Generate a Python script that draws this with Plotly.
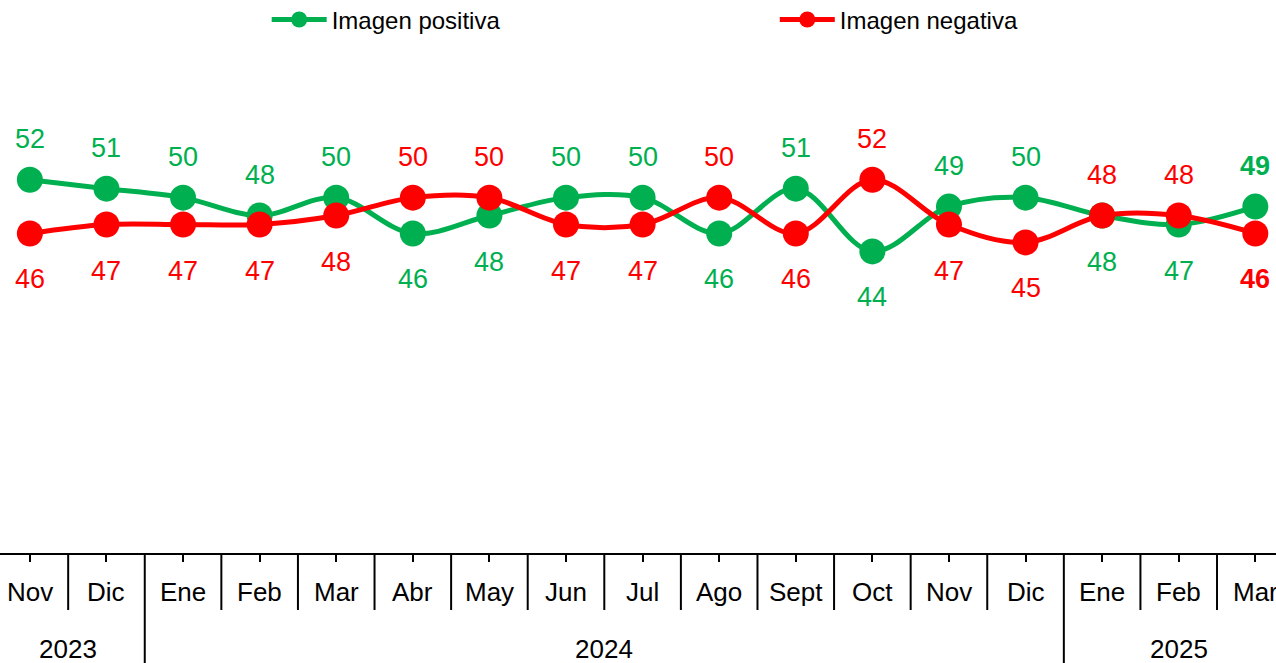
import plotly.graph_objects as go

months = ["Nov", "Dic", "Ene", "Feb", "Mar", "Abr", "May", "Jun", "Jul", "Ago",
          "Sept", "Oct", "Nov", "Dic", "Ene", "Feb", "Mar"]
years = ["2023", "2024", "2025"]
year_spans = [(0, 1), (2, 13), (14, 16)]
positiva = [52, 51, 50, 48, 50, 46, 48, 50, 50, 46, 51, 44, 49, 50, 48, 47, 49]
negativa = [46, 47, 47, 47, 48, 50, 50, 47, 47, 50, 46, 52, 47, 45, 48, 48, 46]

GREEN = "#00B050"
RED = "#FF0000"
FONT = "Liberation Sans, Arial, sans-serif"

xs = list(range(len(months)))

fig = go.Figure()
fig.add_trace(go.Scatter(
    x=xs, y=positiva, name="Imagen positiva", mode="lines+markers",
    line=dict(color=GREEN, width=5, shape="spline", smoothing=1.0),
    marker=dict(color=GREEN, size=26), legend="legend",
))
fig.add_trace(go.Scatter(
    x=xs, y=negativa, name="Imagen negativa", mode="lines+markers",
    line=dict(color=RED, width=5, shape="spline", smoothing=1.0),
    marker=dict(color=RED, size=26), legend="legend2",
))

annotations = []
n = len(months)
for i in range(n):
    g, r = positiva[i], negativa[i]
    last = i == n - 1
    g_up = g > r
    for val, color, up in ((g, GREEN, g_up), (r, RED, not g_up)):
        txt = f"<b>{val}</b>" if last else str(val)
        annotations.append(dict(
            x=i, y=val, xref="x", yref="y", text=txt, showarrow=False,
            yanchor="middle", xanchor="center", yshift=41 if up else -46,
            font=dict(family=FONT, size=27, color=color),
        ))

# month labels
for i, m in enumerate(months):
    annotations.append(dict(
        x=i, y=0, xref="x", yref="paper", text=m, showarrow=False,
        yanchor="middle", xanchor="center", yshift=-39,
        font=dict(family=FONT, size=26, color="#000000"),
    ))
# year labels
for yl, (a, b) in zip(years, year_spans):
    annotations.append(dict(
        x=(a + b) / 2, y=0, xref="x", yref="paper", text=yl, showarrow=False,
        yanchor="middle", xanchor="center", yshift=-96,
        font=dict(family=FONT, size=26, color="#000000"),
    ))

shapes = []
year_bounds = set()
for (a, b) in year_spans:
    year_bounds.add(a - 0.5)
    year_bounds.add(b + 0.5)
for i in range(n + 1):
    xb = i - 0.5
    long = xb in year_bounds
    shapes.append(dict(
        type="line", xref="x", yref="paper", ysizemode="pixel", yanchor=0,
        x0=xb, x1=xb, y0=0, y1=-110 if long else -57,
        line=dict(color="#000000", width=2),
    ))

legend_common = dict(
    orientation="h", xanchor="left", yanchor="middle", yref="container",
    xref="container", y=0.970, itemwidth=55,
    font=dict(family=FONT, size=24, color="#000000"),
    bgcolor="rgba(0,0,0,0)",
)

fig.update_layout(
    width=1276, height=663,
    margin=dict(l=0, r=0, t=40, b=110),
    paper_bgcolor="white", plot_bgcolor="white",
    showlegend=True,
    legend=dict(x=0.2090, **legend_common),
    legend2=dict(x=0.6072, **legend_common),
    xaxis=dict(
        range=[-0.39, 16.27], showgrid=False, zeroline=False,
        showticklabels=False, showline=True, linecolor="#000000", linewidth=2,
        ticks="outside", ticklen=7, tickwidth=1.5, tickcolor="#000000",
        tickvals=xs,
    ),
    yaxis=dict(range=[10.33, 67.33], visible=False, showgrid=False, zeroline=False),
    annotations=annotations,
    shapes=shapes,
)

fig.write_html("out.html", config={"displayModeBar": False},
               post_script="document.body.style.margin='0';")
